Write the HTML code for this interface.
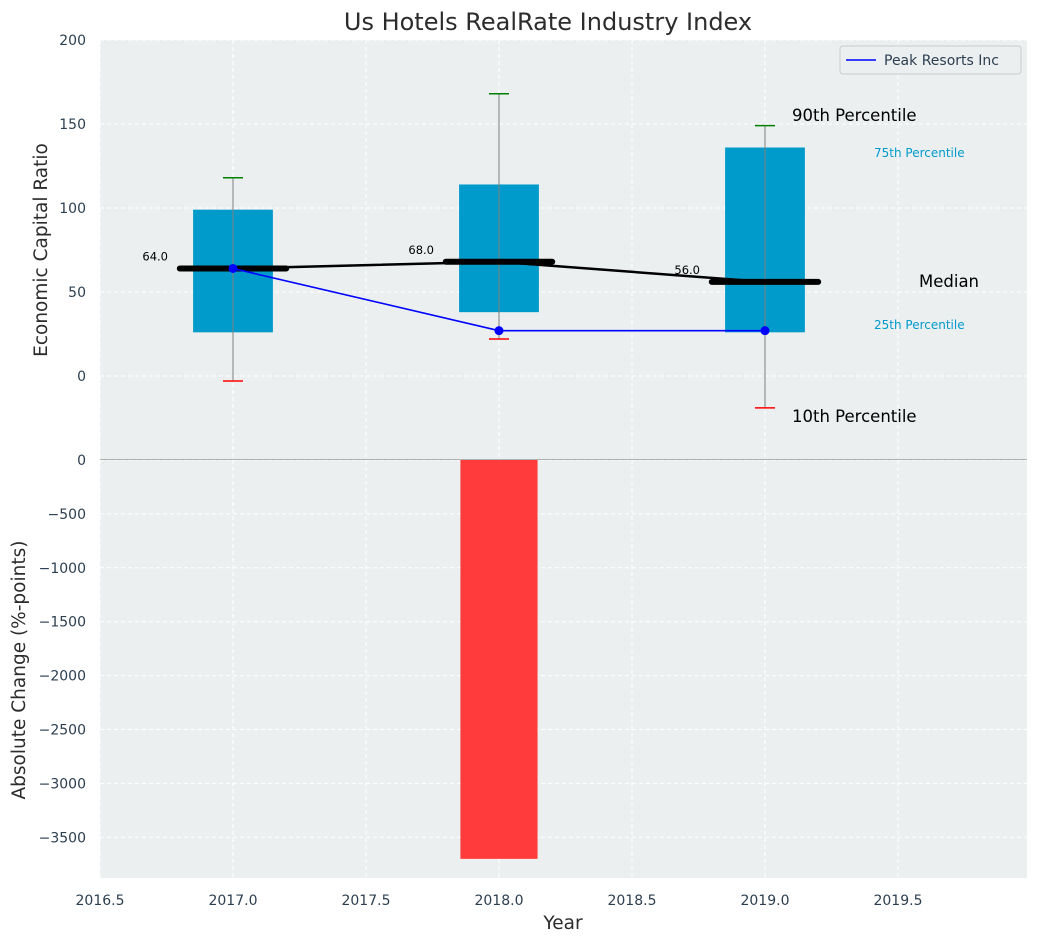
<!DOCTYPE html>
<html><head><meta charset="utf-8"><style>
body{margin:0;background:#fff;font-family:"Liberation Sans","DejaVu Sans",sans-serif}
text{font-family:"DejaVu Sans","Liberation Sans",sans-serif}
</style></head><body>
<svg id="chart" width="1039" height="942" xmlns="http://www.w3.org/2000/svg"></svg>
<script>
const years=[2017,2018,2019];
const p10=[-3,22,-19];
const p25=[26,38,26];
const medians=[64,68,56];
const p75=[99,114,136];
const p90=[118,168,149];
const company=[64,27,27];
const changes=[0,-3700,0];
const topTicks=[0,50,100,150,200];
const botTicks=[0,-500,-1000,-1500,-2000,-2500,-3000,-3500];
const xTicks=[2016.5,2017,2017.5,2018,2018.5,2019,2019.5];

const NS='http://www.w3.org/2000/svg';
const svg=document.getElementById('chart');
function el(t,a,p){const e=document.createElementNS(NS,t);for(const k in a)e.setAttribute(k,a[k]);(p||svg).appendChild(e);return e;}
const fmt=v=>(v<0?'\u2212':'')+Math.abs(v);
const L=100,R=1027,T1=40,B1=459,T2=459,B2=878;
const x=v=>L+(v-2016.5)*(R-L)/(2019.985-2016.5);
const y1=v=>376-(v)*84/50;
const y2=v=>460-v*0.1078;

let bg=el('rect',{x:L,y:T1,width:R-L,height:B2-T1,fill:'#ebeff0'});


xTicks.forEach(t=>{let g=el('line',{x1:x(t),x2:x(t),y1:T1,y2:B2,stroke:'#fff','stroke-dasharray':'4,3','stroke-width':1});

let tx=el('text',{x:x(t),y:905,'text-anchor':'middle','font-size':14,fill:'#2c3e50'});tx.textContent=t.toFixed(1);
});
topTicks.forEach(t=>{let g=el('line',{x1:L,x2:R,y1:y1(t),y2:y1(t),stroke:'#fff','stroke-dasharray':'4,3'});

let tx=el('text',{x:86,y:y1(t)+5,'text-anchor':'end','font-size':14,fill:'#2c3e50'});tx.textContent=fmt(t);
});
botTicks.forEach(t=>{let g=el('line',{x1:L,x2:R,y1:y2(t),y2:y2(t),stroke:'#fff','stroke-dasharray':'4,3'});

let tx=el('text',{x:86,y:y2(t)+5,'text-anchor':'end','font-size':14,fill:'#2c3e50'});tx.textContent=fmt(t);
});
let sep=el('line',{x1:L,x2:R,y1:459.5,y2:459.5,stroke:'#b0b0b0','stroke-width':1});


const bw=0.3;
years.forEach((yr,i)=>{
 let b=el('rect',{x:x(yr-bw/2),y:y1(p75[i]),width:x(yr+bw/2)-x(yr-bw/2),height:y1(p25[i])-y1(p75[i]),fill:'#009bcb'});
 
 let w=el('line',{x1:x(yr),x2:x(yr),y1:y1(p90[i]),y2:y1(p10[i]),stroke:'#808080','stroke-width':1});
 
 let c1=el('line',{x1:x(yr)-10,x2:x(yr)+10,y1:y1(p90[i]),y2:y1(p90[i]),stroke:'green','stroke-width':1.5});
 
 let c2=el('line',{x1:x(yr)-10,x2:x(yr)+10,y1:y1(p10[i]),y2:y1(p10[i]),stroke:'red','stroke-width':1.5});
 
});
let mp=years.map((yr,i)=>x(yr)+','+y1(medians[i])).join(' ');
let ml=el('polyline',{points:mp,fill:'none',stroke:'#000','stroke-width':2.5});

years.forEach((yr,i)=>{
 let m=el('line',{x1:x(yr-0.2),x2:x(yr+0.2),y1:y1(medians[i]),y2:y1(medians[i]),stroke:'#000','stroke-width':6,'stroke-linecap':'round'});
 
 let t=el('text',{x:x(yr)-65,y:y1(medians[i])-8,'text-anchor':'end','font-size':11.5,fill:'#000'});t.textContent=medians[i].toFixed(1);
 
});
let cp=years.map((yr,i)=>x(yr)+','+y1(company[i])).join(' ');
let cl=el('polyline',{points:cp,fill:'none',stroke:'#0000ff','stroke-width':1.6});

years.forEach((yr,i)=>{let d=el('circle',{cx:x(yr),cy:y1(company[i]),r:4.5,fill:'#0000ff'});
});
years.forEach((yr,i)=>{if(changes[i]===0)return;
 let b=el('rect',{x:x(yr-0.145),y:y2(0),width:x(yr+0.145)-x(yr-0.145),height:y2(changes[i])-y2(0),fill:'#ff3b3b'});
 });
const ann=[['90th Percentile',792,121,16.5,'#000'],['75th Percentile',874,157,12,'#009bcb'],['Median',919,287,16.5,'#000'],['25th Percentile',874,329,12,'#009bcb'],['10th Percentile',792,422,16.5,'#000']];
ann.forEach(a=>{let t=el('text',{x:a[1],y:a[2],'font-size':a[3],fill:a[4]});t.textContent=a[0];
});
let lg=el('g',{});
el('rect',{x:840,y:46,width:181,height:28,rx:3,fill:'#ebeff0',stroke:'#ccc'},lg);
el('line',{x1:846,x2:876,y1:60,y2:60,stroke:'#0000ff','stroke-width':1.6},lg);
let lt=el('text',{x:884,y:65,'font-size':14,fill:'#2c3e50'},lg);lt.textContent='Peak Resorts Inc';
let ti=el('text',{x:548,y:30,'text-anchor':'middle','font-size':24,fill:'#2c2c2c'});ti.textContent='Us Hotels RealRate Industry Index';

let xt=el('text',{x:563,y:929,'text-anchor':'middle','font-size':18.5,fill:'#2c2c2c'});xt.textContent='Year';

let yt=el('text',{x:47,y:250,'text-anchor':'middle','font-size':18.5,fill:'#2c2c2c',transform:'rotate(-90 47 250)'});yt.textContent='Economic Capital Ratio';

let yb=el('text',{x:25,y:670,'text-anchor':'middle','font-size':18.5,fill:'#2c2c2c',transform:'rotate(-90 25 670)'});yb.textContent='Absolute Change (%-points)';

</script>
</body></html>
